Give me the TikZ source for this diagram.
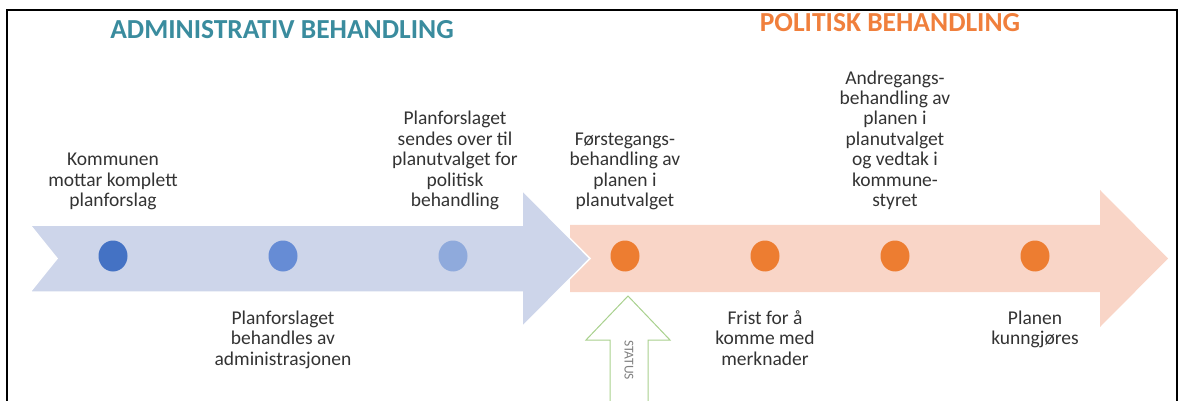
\documentclass[tikz,border=0pt]{standalone}
\usepackage{fontspec}
\setmainfont{Carlito}
\usetikzlibrary{shapes.geometric}
\definecolor{titleteal}{HTML}{3A8C9E}
\definecolor{titleorange}{HTML}{F07F3C}
\definecolor{txtgray}{HTML}{333333}
\definecolor{arrowblue}{HTML}{CDD5EA}
\definecolor{arrowpink}{HTML}{F9D5C7}
\definecolor{dotA}{HTML}{4472C4}
\definecolor{dotB}{HTML}{668CD5}
\definecolor{dotC}{HTML}{8FAADC}
\definecolor{dotO}{HTML}{ED7D31}
\definecolor{statusgreen}{HTML}{A9D18E}
\newcommand{\toptext}[1]{\parbox[b]{170pt}{\centering\fontsize{19.5}{20.5}\selectfont #1}}
\newcommand{\bottext}[1]{\parbox[t]{170pt}{\centering\fontsize{19.5}{20.5}\selectfont #1}}
\begin{document}
\begin{tikzpicture}[x=1pt,y=-1pt,
  lbl/.style={anchor=base, inner sep=0pt, text=txtgray},
  dot/.style={ellipse, minimum width=29pt, minimum height=31pt, inner sep=0pt},
  ttl/.style={anchor=base, inner sep=0pt, font=\bfseries\fontsize{27.5}{30}\selectfont}]
\useasboundingbox (0,0) rectangle (1179,401);
% frame
\draw[line width=2pt, black] (7,402) -- (7,10) -- (1177,10) -- (1177,402);
% titles
\node[ttl, text=titleteal] (tadm) at (282,39) {ADMINISTRATIV BEHANDLING};
\node[ttl, text=titleorange] (tpol) at (890,32) {POLITISK BEHANDLING};
% arrows
\fill[arrowpink] (570,225) -- (1100,225) -- (1100,190) -- (1168,258.5) -- (1100,327) -- (1100,292) -- (570,292) -- cycle;
\filldraw[fill=arrowblue, draw=white, line width=1.5pt] (30,225) -- (522,225) -- (522,190) -- (590,258.5) -- (522,327) -- (522,292) -- (30,292) -- (57,258.5) -- cycle;
% dots
\node[dot, fill=dotA] (d1) at (113,256) {};
\node[dot, fill=dotB] (d2) at (283,256) {};
\node[dot, fill=dotC] (d3) at (453,256) {};
\node[dot, fill=dotO] (d4) at (625,256) {};
\node[dot, fill=dotO] (d5) at (765,256) {};
\node[dot, fill=dotO] (d6) at (895,256) {};
\node[dot, fill=dotO] (d7) at (1035,256) {};
% labels above
\node[lbl] (l1) at (113,207) {\toptext{Kommunen\\mottar komplett\\planforslag}};
\node[lbl] (l3) at (455,207) {\toptext{Planforslaget\\sendes over til\\planutvalget for\\politisk\\behandling}};
\node[lbl] (l4) at (625,207) {\toptext{Førstegangs-\\behandling av\\planen i\\planutvalget}};
\node[lbl] (l6) at (895,207) {\toptext{Andregangs-\\behandling av\\planen i\\planutvalget\\og vedtak i\\kommune-\\styret}};
% labels below
\node[lbl] (l2) at (283,324) {\bottext{Planforslaget\\behandles av\\administrasjonen}};
\node[lbl] (l5) at (765,324) {\bottext{Frist for å\\komme med\\merknader}};
\node[lbl] (l7) at (1035,324) {\bottext{Planen\\kunngjøres}};
% status arrow
\filldraw[draw=statusgreen, fill=white, line width=1pt, line join=miter] (610,403) -- (610,340) -- (586,340) -- (628,296) -- (670,340) -- (648,340) -- (648,403);
\node[rotate=-90, inner sep=0pt, text=gray, font=\fontsize{13.5}{14}\selectfont] (st) at (629,360) {STATUS};
\end{tikzpicture}
\end{document}
